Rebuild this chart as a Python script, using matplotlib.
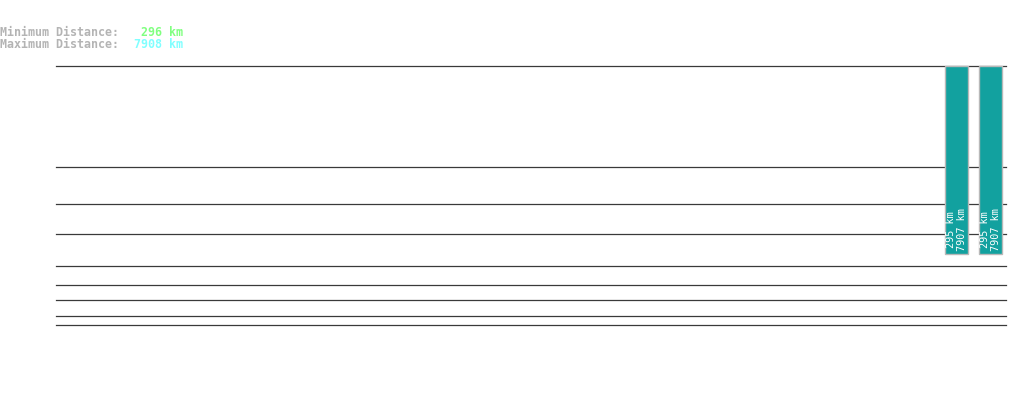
import matplotlib
matplotlib.use("Agg")
import matplotlib.pyplot as plt

# ---- data ----
min_distance_km = 296
max_distance_km = 7908
bar_positions = [0, 1]
bar_bottoms = [71, 71]          # scale units
bar_tops = [259, 259]           # scale units
bar_min_labels = ["295 km", "295 km"]
bar_max_labels = ["7907 km", "7907 km"]
grid_levels = [259, 158, 121, 91, 59, 40, 25, 9, 0]

W, H = 1019, 402
fig = plt.figure(figsize=(W / 100, H / 100), dpi=100)
fig.patch.set_facecolor("white")

ax = fig.add_axes([56 / W, (H - 326) / H, 950 / W, 260 / H])
ax.set_facecolor("white")
for s in ax.spines.values():
    s.set_visible(False)
ax.set_xticks([])
ax.set_yticks([])

px_per_unit = 34.0
right = bar_positions[-1] + 15.5 / px_per_unit
left = right - 950 / px_per_unit
ax.set_xlim(left, right)
ax.set_ylim(-0.5, 259.5)

for g in grid_levels:
    ax.axhline(g, color="#3a3a3a", lw=0.9, zorder=1, clip_on=False)

heights = [t - b for t, b in zip(bar_tops, bar_bottoms)]
ax.bar(bar_positions, heights, bottom=bar_bottoms, width=23 / px_per_unit,
       color="#12a19f", edgecolor="#b8b8b8", linewidth=1.0, zorder=3)

for x, b, lo, hi in zip(bar_positions, bar_bottoms, bar_min_labels, bar_max_labels):
    ax.text(x, b + 3, lo + "\n" + hi, rotation=90, ha="center", va="bottom",
            color="white", fontsize=7.3, family="DejaVu Sans Mono",
            linespacing=1.05, zorder=4)

mono = "DejaVu Sans Mono"
fs = 8.4
fig.text(0 / W, 1 - 32 / H, "Minimum Distance:", color="#b4b4b4", fontsize=fs,
         family=mono, fontweight="bold", va="center", ha="left")
fig.text(0 / W, 1 - 44 / H, "Maximum Distance:", color="#b4b4b4", fontsize=fs,
         family=mono, fontweight="bold", va="center", ha="left")
fig.text(183 / W, 1 - 32 / H, f"{min_distance_km} km", color="#80ff80", fontsize=fs,
         family=mono, fontweight="bold", va="center", ha="right")
fig.text(183 / W, 1 - 44 / H, f"{max_distance_km} km", color="#80ffff", fontsize=fs,
         family=mono, fontweight="bold", va="center", ha="right")

fig.savefig("out.png", dpi=100, facecolor="white")
